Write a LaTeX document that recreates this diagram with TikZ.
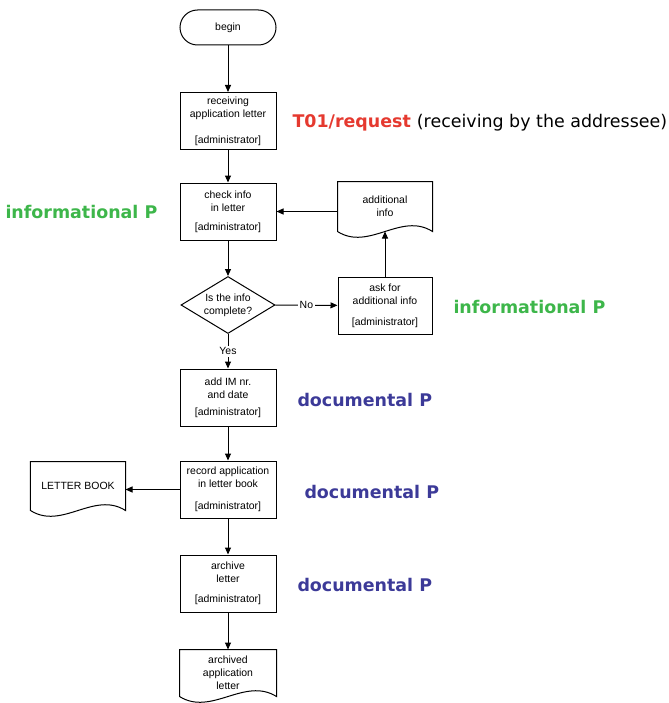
\documentclass[tikz,border=0pt]{standalone}
\usepackage{fontspec}
\setmainfont{Liberation Sans}
\newfontfamily\notefont{DejaVu Sans}
\usetikzlibrary{shapes.geometric,arrows.meta,calc}

\definecolor{infogreen}{RGB}{61,182,74}
\definecolor{reqred}{RGB}{229,57,47}
\definecolor{docblue}{RGB}{60,58,152}

\tikzset{
  every node/.style={font=\fontsize{10.5}{13}\selectfont},
  task/.style={draw, minimum width=96bp, minimum height=57bp, align=center, inner sep=2bp},
  doc/.style={minimum width=94bp, align=center, inner sep=2bp},
  note/.style={anchor=west, inner sep=0pt, font=\notefont\bfseries\fontsize{17.5}{20}\selectfont},
  cut/.style={fill=white, inner sep=2bp},
}
% role line at the bottom of a task box
\newcommand\admin[1][7bp]{\\[#1]{[administrator]}}
% document outline with a wavy lower edge around a node
\newcommand\docoutline[1]{%
  \draw (#1.south west) -- (#1.north west) -- (#1.north east) -- (#1.south east)
    .. controls ($(#1.south east)!0.33!(#1.south west)+(0,-20)$)
       and ($(#1.south east)!0.67!(#1.south west)+(0,20)$) .. (#1.south west) -- cycle;}

\begin{document}
\begin{tikzpicture}[x=1bp, y=-1bp, line width=1bp, >={Triangle[length=7bp,width=6bp]}]
  \useasboundingbox (0,0) rectangle (669,703);

  % main column
  \node[draw, rounded corners=17.5bp, minimum width=96bp, minimum height=35bp] (begin) at (228,27.5) {begin};
  \node[task] (recv) at (228,121) {receiving\\application letter\admin[13bp]};
  \node[task] (check) at (228,211.5) {check info\\in letter\admin[6bp]};
  \node[draw, diamond, aspect=1.6, inner sep=0pt, minimum width=94bp, minimum height=57bp, align=center] (complete) at (228,305) {Is the info\\complete?};
  \node[task] (addim) at (228,397.5) {add IM nr.\\and date\admin[4bp]};
  \node[task] (record) at (228,489.5) {record application\\in letter book\admin[9bp]};
  \node[task] (archive) at (228,583.5) {archive\\letter\admin[7bp]};
  \node[doc, minimum width=96bp, minimum height=46bp] (archived) at (228,673) {archived\\application\\letter};
  \docoutline{archived}

  % side branches
  \node[doc, minimum height=49bp] (addinfo) at (385,206.5) {additional\\info};
  \docoutline{addinfo}
  \node[task, minimum width=94bp] (ask) at (385,305.5) {ask for\\additional info\admin[8bp]};
  \node[doc, minimum height=48bp] (letterbook) at (78,486) {LETTER BOOK};
  \docoutline{letterbook}

  % flow
  \draw[->] (begin) -- (recv);
  \draw[->] (recv) -- (check);
  \draw[->] (check) -- (complete);
  \draw[->] (complete) -- node[cut] {No} (ask);
  \draw[->] (ask) -- (addinfo);
  \draw[->] (addinfo.west |- check) -- (check);
  \draw[->] (complete) -- node[cut] {Yes} (addim);
  \draw[->] (addim) -- (record);
  \draw[->] (record) -- (letterbook.east |- record);
  \draw[->] (record) -- (archive);
  \draw[->] (archive) -- (archived);

  % process type notes
  \node[note, text=reqred] (req) at (292,123) {T01/request \textcolor{black}{\mdseries(receiving by the addressee)}};
  \node[note, text=infogreen] (info1) at (5,212) {informational P};
  \node[note, text=infogreen] (info2) at (453,307) {informational P};
  \node[note, text=docblue] (doc1) at (297,400) {documental P};
  \node[note, text=docblue] (doc2) at (304,492) {documental P};
  \node[note, text=docblue] (doc3) at (297,585) {documental P};
\end{tikzpicture}
\end{document}
